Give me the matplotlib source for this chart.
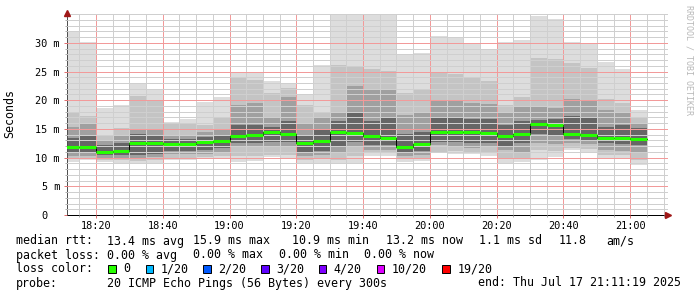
""" SmokePing style latency chart (median rtt with smoke) """
import matplotlib
import matplotlib.pyplot as plt
import numpy as np
from matplotlib.patches import Rectangle

matplotlib.use("Agg")

plt.rcParams["font.family"] = ["DejaVu Sans Mono"]

# 5-minute bins (start time of each bin)
BIN_START = ["18:10", "18:15", "18:20", "18:25", "18:30", "18:35", "18:40", "18:45", "18:50", "18:55",
			 "19:00", "19:05", "19:10", "19:15", "19:20", "19:25", "19:30", "19:35", "19:40", "19:45",
			 "19:50", "19:55", "20:00", "20:05", "20:10", "20:15", "20:20", "20:25", "20:30", "20:35",
			 "20:40", "20:45", "20:50", "20:55", "21:00"]

# ping values in ms, from the outer smoke band to the inner one
MAX_RTT = [32.1, 30.2, 18.7, 19.2, 22.8, 21.8, 16.2, 16.8, 19.7, 20.5, 25.0, 24.7, 23.4, 23.0, 21.1, 26.2, 34.9, 34.9,
		   34.9, 34.9, 27.9, 28.3, 31.2, 30.8, 29.9, 28.9, 30.1, 30.5, 34.6, 34.1, 30.2, 29.9, 26.7, 25.4, 18.3]
HI2 = [17.7, 17.3, 13.9, 15.1, 20.8, 20.1, 15.8, 15.9, 15.7, 17.0, 23.8, 23.5, 21.3, 22.1, 19.2, 17.7, 26.2, 26.0,
	   25.4, 25.1, 21.2, 21.8, 24.7, 24.6, 23.8, 23.3, 19.2, 20.5, 27.3, 27.2, 26.5, 25.6, 20.2, 19.5, 16.9]
HI3 = [15.3, 16.0, 13.1, 13.8, 15.0, 14.8, 13.8, 13.8, 14.5, 14.8, 19.2, 19.5, 17.1, 20.5, 16.0, 16.9, 18.0, 22.4,
	   21.8, 21.8, 17.4, 17.7, 19.8, 19.8, 19.6, 19.3, 18.0, 19.0, 18.8, 18.7, 20.2, 20.1, 18.3, 18.0, 16.0]
HI4 = [13.4, 14.0, 12.2, 12.5, 14.1, 13.9, 13.2, 13.2, 13.6, 13.9, 15.7, 15.7, 15.4, 16.3, 14.0, 14.8, 16.3, 17.7,
	   16.3, 17.1, 14.2, 14.5, 16.9, 17.1, 16.8, 16.7, 15.7, 16.3, 16.6, 16.7, 17.3, 17.1, 15.4, 15.7, 15.1]
MEDIAN = [11.9, 11.8, 10.9, 11.2, 12.6, 12.6, 12.4, 12.4, 12.8, 12.9, 13.8, 13.9, 14.5, 14.2, 12.6, 12.9, 14.4, 14.3,
		  13.7, 13.4, 11.8, 12.3, 14.5, 14.5, 14.4, 14.3, 13.7, 14.1, 15.9, 15.7, 14.1, 14.0, 13.5, 13.4, 13.2]
LO4 = [11.0, 10.8, 10.5, 10.5, 10.5, 10.6, 11.2, 11.2, 11.3, 11.6, 12.5, 12.5, 12.8, 12.8, 11.0, 11.2, 11.9, 12.8,
	   12.2, 12.2, 11.0, 11.2, 12.8, 12.8, 12.6, 12.6, 11.9, 12.5, 14.2, 14.0, 13.2, 13.0, 12.5, 12.4, 12.2]
LO3 = [10.2, 10.2, 10.0, 10.0, 10.0, 10.1, 10.6, 10.6, 10.7, 11.0, 12.1, 12.0, 11.8, 11.8, 10.2, 10.4, 11.0, 11.8,
	   11.3, 11.3, 10.2, 10.4, 12.2, 12.0, 11.6, 11.8, 11.3, 11.0, 12.5, 12.3, 12.5, 12.3, 11.3, 11.2, 11.0]
LO2 = [9.7, 9.8, 9.6, 9.5, 9.4, 9.5, 10.0, 10.0, 10.1, 10.2, 10.2, 10.3, 10.5, 10.5, 9.6, 9.7, 9.6, 10.2,
	   10.9, 10.9, 9.7, 9.9, 11.0, 11.2, 11.0, 11.0, 9.7, 9.9, 11.3, 11.2, 11.6, 11.5, 10.5, 10.4, 9.6]
MIN_RTT = [9.3, 9.5, 9.2, 9.1, 8.9, 9.0, 9.5, 9.5, 9.7, 9.7, 9.3, 9.4, 10.1, 10.0, 9.0, 9.0, 8.9, 9.1,
		   10.3, 10.2, 9.2, 9.4, 10.9, 10.6, 10.6, 10.3, 9.1, 9.3, 9.6, 10.1, 11.3, 10.9, 9.9, 9.8, 8.7]

X_LABELS = ["18:20", "18:40", "19:00", "19:20", "19:40", "20:00", "20:20", "20:40", "21:00"]
Y_TICKS = [0, 5, 10, 15, 20, 25, 30]
Y_LABELS = ["0\u00a0\u00a0", "5 m", "10 m", "15 m", "20 m", "25 m", "30 m"]

LOSS_LABELS = ["0", "1/20", "2/20", "3/20", "4/20", "10/20", "19/20"]
LOSS_COLORS = ["#26ff00", "#00b8ff", "#0059ff", "#5e00ff", "#7e00ff", "#dd00ff", "#ff0000"]

SMOKE_COLORS = ["#dddddd", "#c4c4c4", "#a0a0a0", "#666666"]
STEP = 5
START, END = "18:11:19", "21:11:19"


def to_min(hhmm):
	""" minutes after 18:00 """
	parts = [int(p) for p in hhmm.split(":")]
	sec = parts[2] if len(parts) > 2 else 0
	return (parts[0] - 18) * 60 + parts[1] + sec / 60


W, H = 697, 297
fig = plt.figure(figsize=(W / 100, H / 100), dpi=100)
ax = fig.add_axes([67 / W, 1 - 215 / H, 601 / W, 202 / H])

starts = np.array([to_min(t) for t in BIN_START])
edges = np.append(starts, starts[-1] + STEP)


def stepped(v):
	v = np.asarray(v, dtype=float)
	return np.append(v, v[-1])


bands = [(MIN_RTT, MAX_RTT), (LO2, HI2), (LO3, HI3), (LO4, HI4)]
for (lo, hi), c in zip(bands, SMOKE_COLORS):
	ax.fill_between(edges, stepped(lo), stepped(hi), step="post", color=c, lw=0, zorder=1)

ax.step(edges, stepped(MEDIAN), where="post", color="black", lw=0.7, zorder=3)
ax.hlines(MEDIAN, starts, starts + STEP, colors=LOSS_COLORS[0], lw=2.2, zorder=4)

ax.set_xlim(to_min(START), to_min(END))
ax.set_ylim(0, 35.2)
ax.set_xticks([to_min(t) for t in X_LABELS])
ax.set_xticklabels(X_LABELS)
ax.set_xticks(np.arange(15, 191, 5), minor=True)
ax.set_yticks(Y_TICKS)
ax.set_yticklabels(Y_LABELS)
ax.set_yticks(np.arange(0, 35.1, 1), minor=True)

# grilles pointillées, dessinées au-dessus de la fumée
ax.set_axisbelow(False)
ax.grid(which="major", color="#f29a9a", ls=(0, (1, 1)), lw=0.72, antialiased=False)
ax.grid(which="minor", color="#cfcfcf", ls=(0, (1, 1)), lw=0.72, antialiased=False)

ax.tick_params(which="both", labelsize=7.4, width=0.72)
ax.tick_params(which="major", length=2.2, color="#e07070")
ax.tick_params(which="minor", length=1.5, color="#b0b0b0")
ax.tick_params(axis="x", pad=2.2)
ax.tick_params(axis="y", pad=2.9)

for side in ("top", "right"):
	ax.spines[side].set_visible(False)
ax.spines["left"].set_color("#505050")
ax.spines["bottom"].set_color("black")
ax.spines["left"].set_linewidth(0.72)
ax.spines["bottom"].set_linewidth(0.72)
ax.plot(0, 1, marker="^", ms=4, color="#a01818", transform=ax.transAxes, clip_on=False, zorder=5)
ax.plot(1, 0, marker=">", ms=4, color="#a01818", transform=ax.transAxes, clip_on=False, zorder=5)

ax.set_ylabel("Seconds", fontsize=8.4)
ax.yaxis.set_label_coords(-(67 - 16) / 601, 0.5)

fig.text(689 / W, 1 - 60 / H, "RRDTOOL / TOBI OETIKER", rotation=270, ha="center", va="center",
		 fontsize=6, color="#b8b8b8")


def ftext(px, py, s, **kw):
	fig.text(px / W, 1 - py / H, s, ha="left", va="center", fontsize=8.4, color="black", **kw)


ftext(16, 241, "median rtt:")
for px, s in [(107.3, "13.4 ms avg"), (193.3, "15.9 ms max"), (292, "10.9 ms min"), (386.3, "13.2 ms now"),
			  (479.3, "1.1 ms sd"), (558.3, "11.8"), (606.7, "am/s")]:
	ftext(px, 241, s)

ftext(16, 255, "packet loss:")
for px, s in [(107.3, "0.00 % avg"), (193.3, "0.00 % max"), (279, "0.00 % min"), (364.4, "0.00 % now")]:
	ftext(px, 255, s)

ftext(16, 269, "loss color:")
for px, lab, col in zip([123.3, 160.7, 218.0, 276.4, 333.8, 391.5, 457.3], LOSS_LABELS, LOSS_COLORS):
	fig.add_artist(Rectangle(((px - 15) / W, 1 - 272.5 / H), 7.5 / W, 8 / H, transform=fig.transFigure,
							 facecolor=col, edgecolor="black", lw=0.7))
	ftext(px, 269, lab)

ftext(16, 283, "probe:")
ftext(107.3, 283, "20 ICMP Echo Pings (56 Bytes) every 300s")
ftext(478.3, 283, "end: Thu Jul 17 21:11:19 2025")

fig.savefig("out.png", dpi=100)
plt.close(fig)
